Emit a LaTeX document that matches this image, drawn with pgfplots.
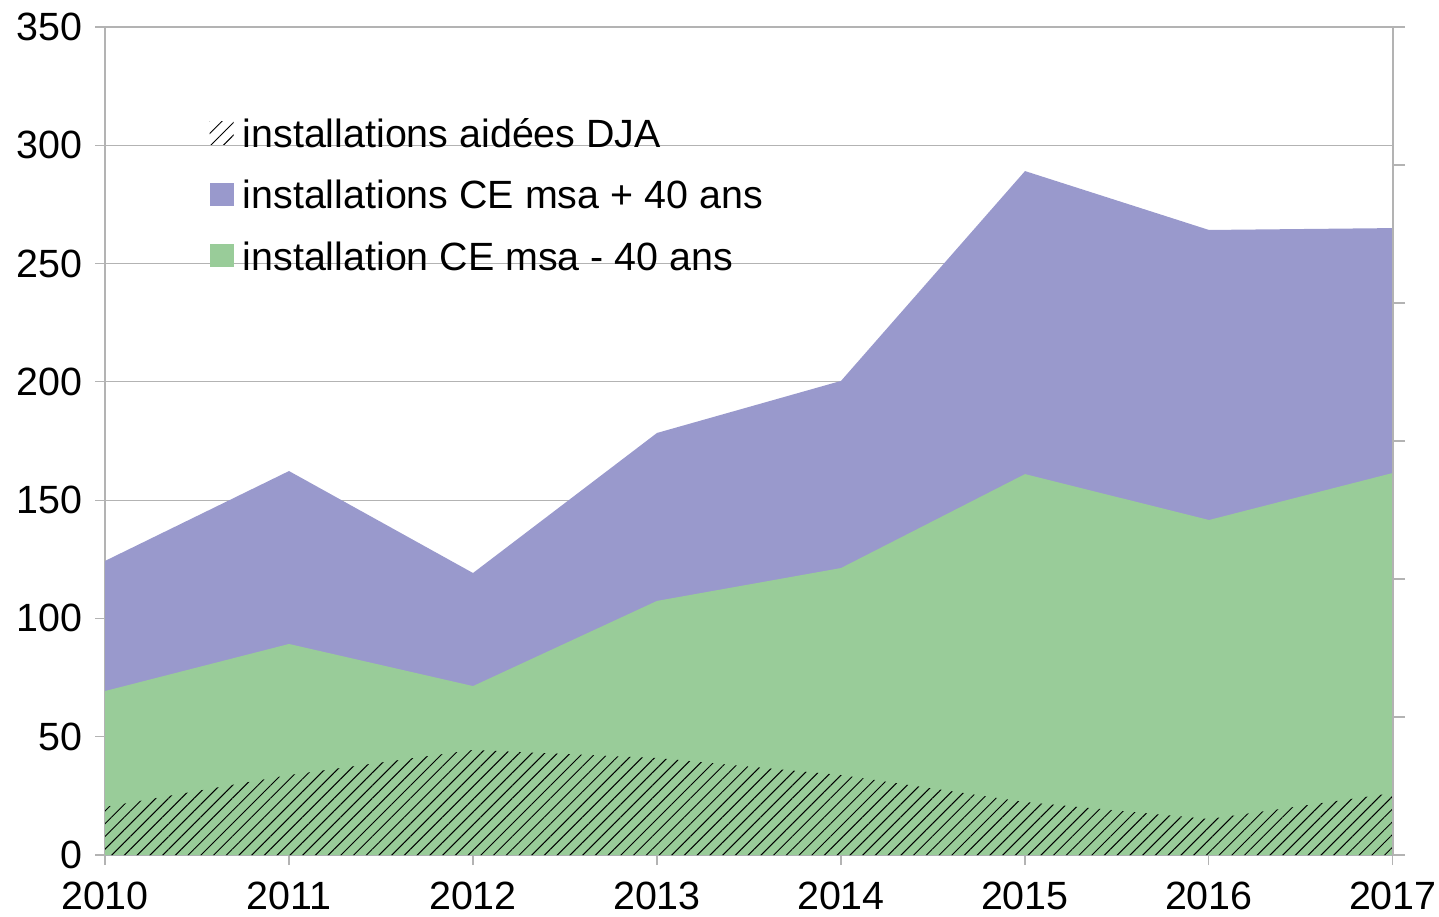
\documentclass[border=0pt]{standalone}
\usepackage{fontspec}
\setmainfont{Liberation Sans}
\usepackage{pgfplots}
\pgfplotsset{compat=1.18}
\usetikzlibrary{patterns.meta}
\definecolor{gridgray}{HTML}{B3B3B3}
\definecolor{purp}{HTML}{9999CC}
\definecolor{grn}{HTML}{99CC99}
\newcommand{\bigf}{\fontsize{19.7}{23}\selectfont}
\begin{document}
\begin{tikzpicture}
\useasboundingbox (-52.5pt,-30.5pt) rectangle (667pt,427.5pt);
\begin{axis}[
  at={(0,0)}, anchor=south west,
  scale only axis, width=644pt, height=414pt,
  xmin=2010, xmax=2017, ymin=0, ymax=350,
  xtick={2010,...,2017}, ytick={0,50,...,350},
  xticklabels={2010,2011,2012,2013,2014,2015,2016,2017},
  xtick pos=lower, ytick pos=left,
  ymajorgrids, grid style={gridgray, line width=0.6pt},
  axis line style={gridgray, line width=0.6pt},
  tick style={gridgray, line width=0.6pt},
  tick align=outside, major tick length=5pt,
  tick label style={font=\bigf, black},
  xticklabel style={yshift=-5pt},
  yticklabel style={xshift=-3pt},
  /pgf/number format/assume math mode=true,
  legend cell align=left,
  legend style={at={(0.081,0.894)}, anchor=north west, draw=none, fill=none,
    font=\bigf, row sep=8.75pt, inner sep=0pt,
    nodes={text height=14pt, text depth=4pt, inner sep=2pt},
    /tikz/every odd column/.append style={column sep=2.5pt}},
  legend image code/.code={\path[#1] (0pt,-3.5pt) rectangle (12pt,8pt);},
]
\addlegendimage{pattern={Lines[angle=45,distance=4.5pt,line width=0.5pt]}, pattern color=black, draw=none}
\addlegendentry{installations aidées DJA}
\addlegendimage{fill=purp, draw=none}
\addlegendentry{installations CE msa + 40 ans}
\addlegendimage{fill=grn, draw=none}
\addlegendentry{installation CE msa - 40 ans}

\addplot[fill=purp, draw=none, forget plot] coordinates {
 (2010,124.3) (2011,162.3) (2012,119.2) (2013,178.4) (2014,200.4) (2015,289.1) (2016,264.2) (2017,265)} \closedcycle;
\addplot[fill=grn, draw=none, forget plot] coordinates {
 (2010,69.3) (2011,89.2) (2012,71.4) (2013,107.4) (2014,121.3) (2015,161) (2016,141.6) (2017,161.5)} \closedcycle;
\addplot[draw=none, pattern={Lines[angle=45,distance=4.5pt,line width=0.5pt]}, pattern color=black, forget plot] coordinates {
 (2010,20.3) (2011,33.8) (2012,44.4) (2013,41) (2014,33.8) (2015,22.4) (2016,15.2) (2017,26.2)} \closedcycle;
\end{axis}
\begin{axis}[
  at={(0,0)}, anchor=south west,
  scale only axis, width=644pt, height=414pt,
  xmin=2010, xmax=2017, ymin=0, ymax=6,
  axis x line=none, axis y line*=right,
  ytick={0,...,6}, yticklabels={},
  axis line style={gridgray, line width=0.6pt},
  tick style={gridgray, line width=0.6pt},
  tick align=outside, major tick length=6pt,
]
\addplot[draw=none] coordinates {(2010,0)};
\end{axis}
\end{tikzpicture}
\end{document}
